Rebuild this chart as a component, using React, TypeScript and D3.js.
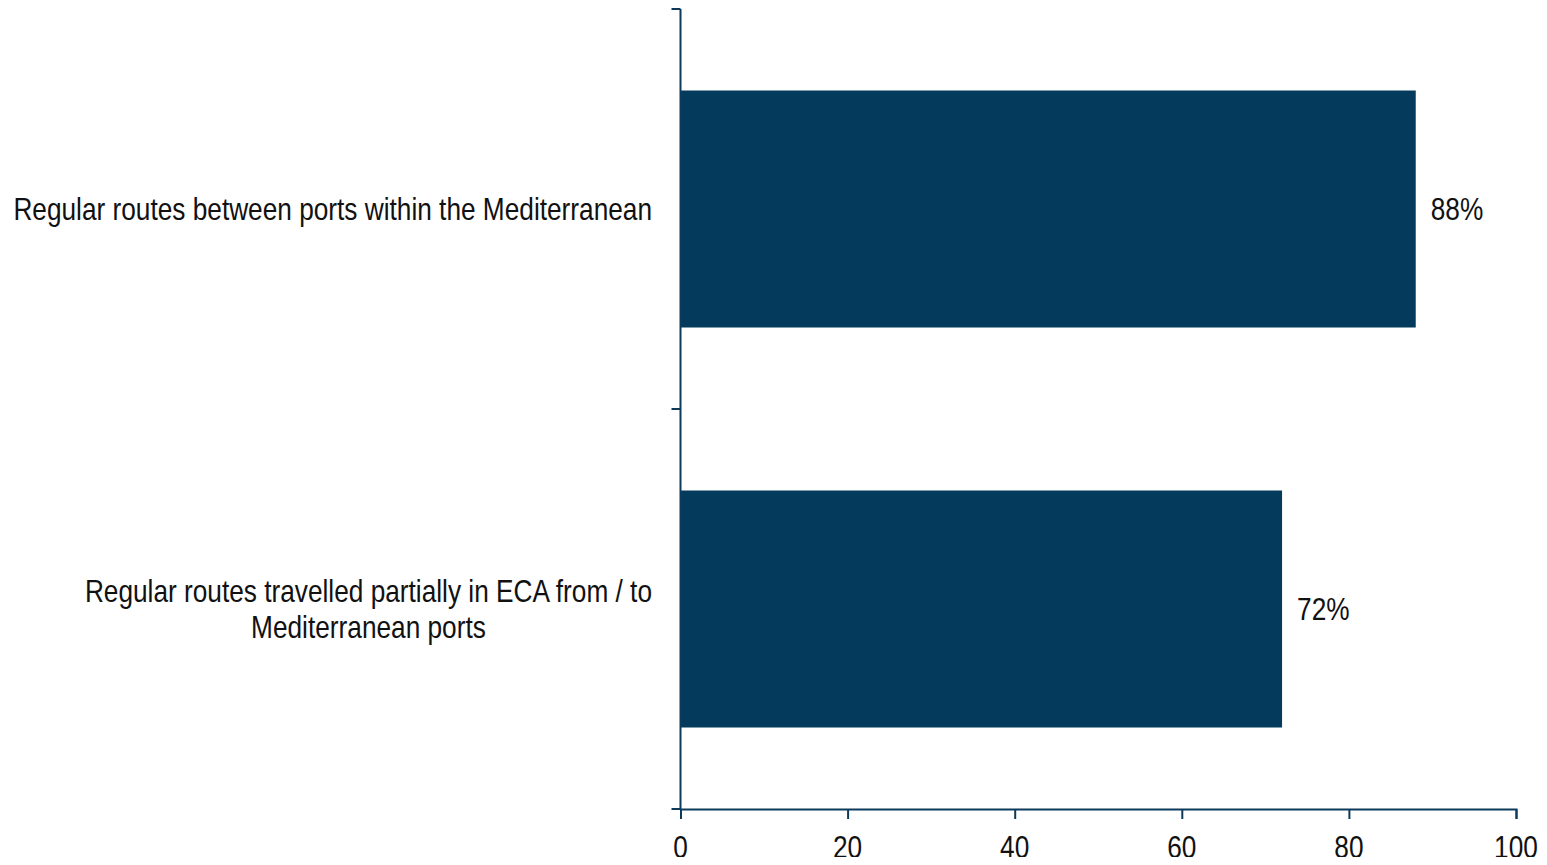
import React, { useEffect, useRef } from "react";
import * as d3 from "d3";

const categories = [
  ["Regular routes between ports within the Mediterranean"],
  ["Regular routes travelled partially in ECA from / to", "Mediterranean ports"],
];
const values = [88, 72];
const xTicks = [0, 20, 40, 60, 80, 100];

const W = 1547;
const H = 865;
const margin = { left: 680.5, right: 31, top: 9, bottom: 56 };
const AXIS = "#0d3a5a";
const BAR = "#043a5c";
const FONT = "'Liberation Sans', Arial, sans-serif";
const FS = 32;
// horizontal compression giving a narrow sans face
const SX = 0.82;

export default function App() {
  const ref = useRef<SVGSVGElement>(null);

  useEffect(() => {
    const svg = d3.select(ref.current);
    svg.selectAll("*").remove();

    const x = d3.scaleLinear().domain([0, 100]).range([margin.left, W - margin.right]);
    const y = d3
      .scaleBand<number>()
      .domain(categories.map((_, i) => i))
      .range([margin.top, H - margin.bottom])
      .padding(0);
    const barFrac = 0.5925;

    // narrow text placed at (px, py)
    const narrowText = (
      parent: d3.Selection<any, any, any, any>,
      px: number,
      py: number,
      anchor: string
    ) =>
      parent
        .append("g")
        .attr("transform", `translate(${px},${py}) scale(${SX},1)`)
        .append("text")
        .attr("font-family", FONT)
        .attr("font-size", FS)
        .attr("fill", "#111")
        .attr("text-anchor", anchor)
        .attr("dy", "0.35em");

    // bars
    svg
      .append("g")
      .selectAll("rect")
      .data(values)
      .join("rect")
      .attr("x", x(0))
      .attr("y", (_, i) => y(i)! + (y.bandwidth() * (1 - barFrac)) / 2)
      .attr("width", (d) => x(d) - x(0))
      .attr("height", y.bandwidth() * barFrac)
      .attr("fill", BAR);

    // value labels
    const gv = svg.append("g");
    values.forEach((d, i) => {
      narrowText(gv, x(d) + 15, y(i)! + y.bandwidth() / 2, "start").text(`${d}%`);
    });

    // x axis
    const xAxis = d3
      .axisBottom(x)
      .tickValues(xTicks)
      .tickSize(10)
      .tickSizeOuter(10)
      .tickFormat(() => "");
    const gx = svg
      .append("g")
      .attr("transform", `translate(0,${H - margin.bottom})`)
      .call(xAxis);
    gx.select(".domain").attr("stroke", AXIS).attr("stroke-width", 2);
    gx.selectAll(".tick line").attr("stroke", AXIS).attr("stroke-width", 2);
    gx.selectAll(".tick text").remove();
    const gxl = svg.append("g");
    xTicks.forEach((t) => {
      narrowText(gxl, x(t), H - margin.bottom + 38, "middle").text(d3.format("d")(t));
    });

    // y axis: line with ticks at category boundaries
    const yEdges = [margin.top, ...categories.map((_, i) => y(i)! + y.bandwidth())];
    const gy = svg.append("g");
    gy.append("line")
      .attr("x1", margin.left)
      .attr("x2", margin.left)
      .attr("y1", margin.top)
      .attr("y2", H - margin.bottom)
      .attr("stroke", AXIS)
      .attr("stroke-width", 2);
    gy.selectAll("line.tk")
      .data(yEdges)
      .join("line")
      .attr("class", "tk")
      .attr("x1", margin.left - 9)
      .attr("x2", margin.left)
      .attr("y1", (d) => d)
      .attr("y2", (d) => d)
      .attr("stroke", AXIS)
      .attr("stroke-width", 2);

    // category labels: block right-aligned, lines centred within block
    const labelRight = 652;
    const lineH = 36;
    categories.forEach((lines, i) => {
      const cy = y(i)! + y.bandwidth() / 2;
      const g = svg.append("g");
      const texts = lines.map((ln, j) =>
        narrowText(g, 0, cy + (j - (lines.length - 1) / 2) * lineH, "middle").text(ln)
      );
      const maxW =
        (d3.max(texts, (s) => (s.node() as SVGTextElement).getComputedTextLength()) || 0) * SX;
      g.attr("transform", `translate(${labelRight - maxW / 2},0)`);
    });
  }, []);

  return <svg ref={ref} width={W} height={H} style={{ display: "block", margin: "-8px" }} />;
}
